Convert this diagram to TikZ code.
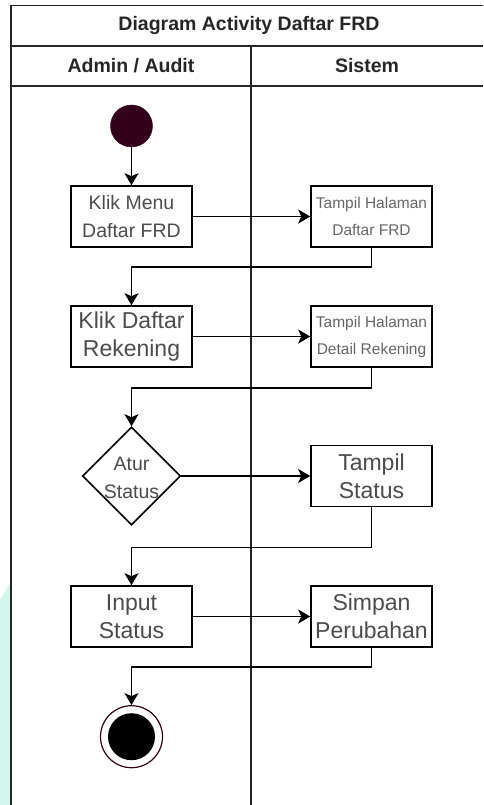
\documentclass[tikz,border=0pt]{standalone}
\usepackage{fontspec}
\setmainfont{Liberation Sans}
\usetikzlibrary{arrows.meta,shapes.geometric}
\definecolor{startfill}{HTML}{33001A}
\definecolor{stripcyan}{HTML}{D2F6EB}

\begin{document}
\begin{tikzpicture}[x=1pt,y=-1pt,
  lane/.style={line width=1.7pt,black!85},
  headtext/.style={font=\bfseries\fontsize{19.5}{23}\selectfont,text=black!85},
  actbox/.style={draw,line width=1.6pt,minimum width=121pt,minimum height=61pt,inner sep=0pt,align=center,text=black!70},
  decision/.style={diamond,draw,line width=1.6pt,minimum width=98pt,minimum height=98pt,inner sep=0pt},
  bigtext/.style={font=\fontsize{23}{28}\selectfont},
  midtext/.style={font=\fontsize{19.5}{28}\selectfont},
  smalltext/.style={font=\fontsize{15.5}{27}\selectfont,text=black!60},
  flow/.style={line width=1.5pt,-{Stealth[length=12pt,width=14pt,inset=3pt]}}]
	\useasboundingbox (0,0) rectangle (483,805);
	\fill[stripcyan] (0,600) -- (10,583) -- (10,805) -- (0,805) -- cycle;
	\draw[lane] (11,805) -- (11,5.5) -- (483,5.5);
	\draw[lane] (11,45.7) -- (483,45.7);
	\draw[lane] (11,85.7) -- (483,85.7);
	\draw[lane] (251,45.7) -- (251,805);
	\node[headtext] (title) at (249,25.6) {Diagram Activity Daftar FRD};
	\node[headtext] (admin) at (131,66) {Admin / Audit};
	\node[headtext] (sistem) at (367,66) {Sistem};
	\node[circle,fill=startfill,draw=startfill,minimum size=42pt,inner sep=0pt] (start) at (131.5,126) {};
	\node[actbox,midtext] (klikmenu) at (131.5,216.5) {Klik Menu\\Daftar FRD};
	\node[actbox,smalltext] (tampilfrd) at (371.5,216.5) {Tampil Halaman\\Daftar FRD};
	\node[actbox,bigtext] (klikdaftar) at (131.5,336.5) {Klik Daftar\\Rekening};
	\node[actbox,smalltext] (tampildetail) at (371.5,336.5) {Tampil Halaman\\Detail Rekening};
	\node[decision,label={[midtext,align=center,text=black!70,yshift=-2pt]center:Atur\\Status}] (atur) at (131.5,476) {};
	\node[actbox,bigtext] (tampilstatus) at (371.5,476) {Tampil\\Status};
	\node[actbox,bigtext] (input) at (131.5,616.5) {Input\\Status};
	\node[actbox,bigtext] (simpan) at (371.5,616.5) {Simpan\\Perubahan};
	\node[circle,draw=startfill,fill=white,line width=1.2pt,minimum size=62pt,inner sep=0pt] (finish) at (131.5,736.7) {};
	\node[circle,fill=black,minimum size=47pt,inner sep=0pt] (finishdot) at (finish) {};
	\draw[flow] (start) -- (klikmenu);
	\draw[flow] (klikmenu) -- (tampilfrd);
	\draw[flow] (tampilfrd.south) -- ++(0,19) -| (klikdaftar.north);
	\draw[flow] (klikdaftar) -- (tampildetail);
	\draw[flow] (tampildetail.south) -- ++(0,20) -| (atur.north);
	\draw[flow] (atur) -- (tampilstatus);
	\draw[flow] (tampilstatus.south) -- ++(0,40) -| (input.north);
	\draw[flow] (input) -- (simpan);
	\draw[flow] (simpan.south) -- ++(0,19) -| (finish.north);
\end{tikzpicture}
\end{document}
